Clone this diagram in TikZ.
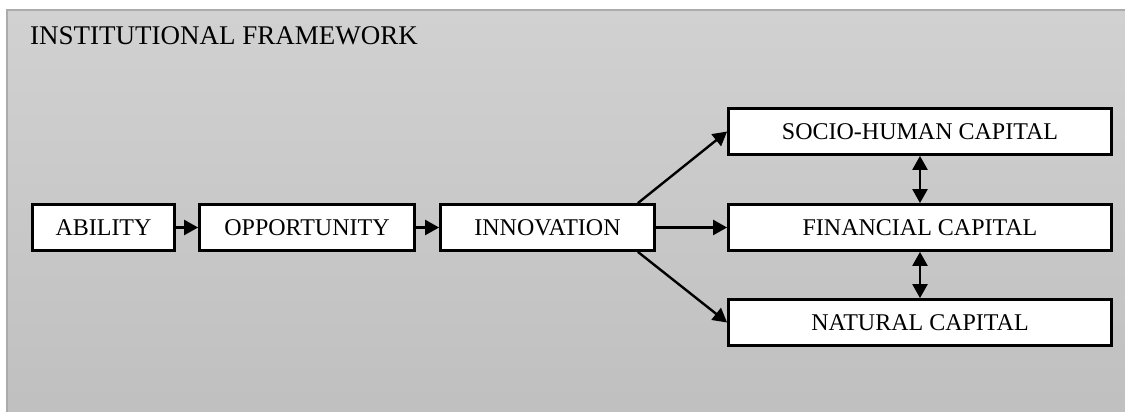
\documentclass[tikz,border=0pt]{standalone}
\usepackage{fontspec}
\setmainfont{Liberation Serif}
\usetikzlibrary{arrows.meta}
\begin{document}
\begin{tikzpicture}[x=1pt,y=-1pt,
  box/.style={draw, line width=2.8pt, fill=white, inner sep=0pt, minimum height=46pt, font=\fontsize{24}{28}\selectfont},
  link/.style={line width=2.4pt, -{Triangle[length=14pt,width=15pt]}},
  both/.style={line width=2.4pt, {Triangle[length=14pt,width=15pt]}-{Triangle[length=14pt,width=15pt]}}]
\useasboundingbox (0,0) rectangle (1125,412);
\draw[draw=black!33, line width=2pt, top color=black!18, bottom color=black!25] (7,10) rectangle (1135,420);
\node[anchor=base west, inner sep=0pt, font=\fontsize{27}{30}\selectfont] (title) at (30,45){INSTITUTIONAL FRAMEWORK};
\node[box, minimum width=142pt] (abil) at (103.5,227.5){ABILITY};
\node[box, minimum width=215pt] (opp) at (307,227.5){OPPORTUNITY};
\node[box, minimum width=214pt] (innov) at (547.5,227.5){INNOVATION};
\node[box, minimum width=383pt] (socio) at (920,131.5){SOCIO-HUMAN CAPITAL};
\node[box, minimum width=383pt] (fin) at (920,227.5){FINANCIAL CAPITAL};
\node[box, minimum width=383pt] (nat) at (920,322.5){NATURAL CAPITAL};
\draw[link](abil) -- (opp);
\draw[link](opp) -- (innov);
\draw[link]([xshift=-18pt]innov.north east) -- (socio.west);
\draw[link](innov) -- (fin);
\draw[link]([xshift=-18pt]innov.south east) -- (nat.west);
\draw[both](socio) -- (fin);
\draw[both](fin) -- (nat);
\end{tikzpicture}
\end{document}
